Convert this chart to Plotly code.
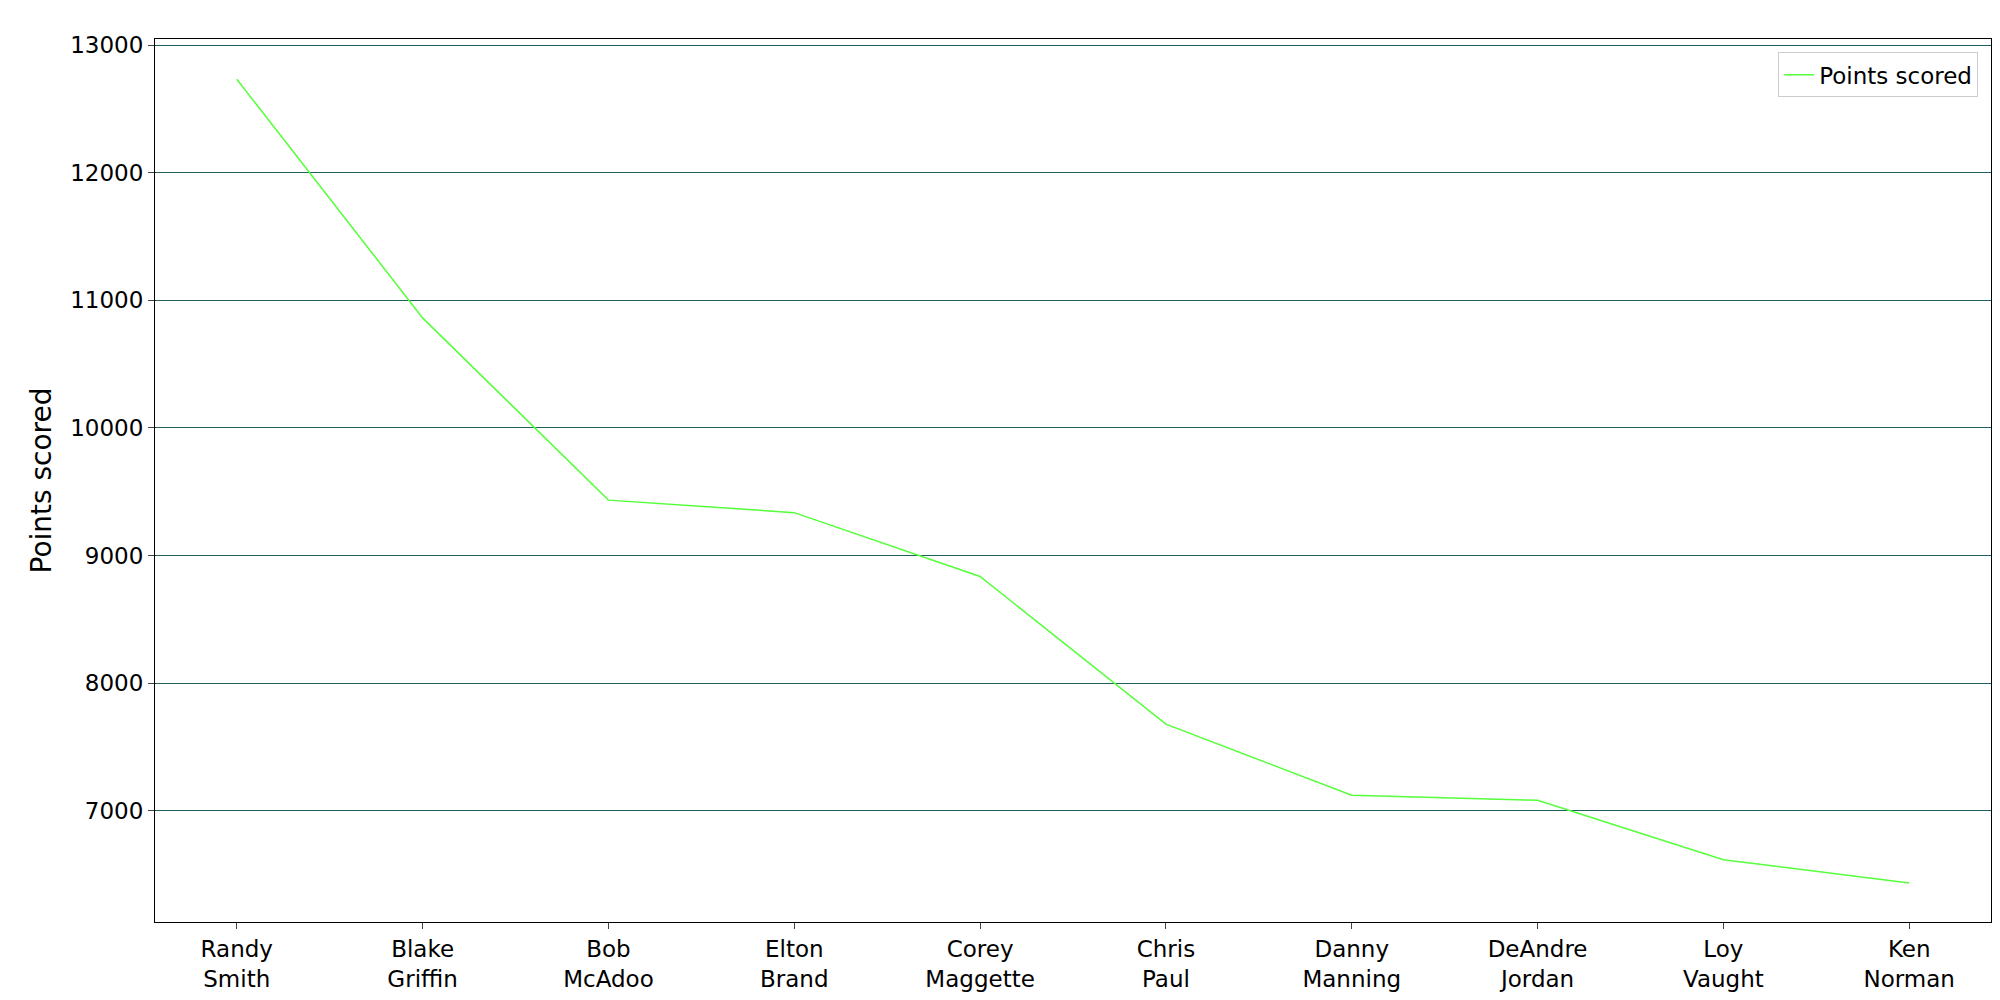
import plotly.graph_objects as go

players = ["Randy<br>Smith", "Blake<br>Griffin", "Bob<br>McAdoo", "Elton<br>Brand", "Corey<br>Maggette",
           "Chris<br>Paul", "Danny<br>Manning", "DeAndre<br>Jordan", "Loy<br>Vaught", "Ken<br>Norman"]
points = [12735, 10863, 9434, 9336, 8835, 7678, 7120, 7080, 6614, 6432]

fig = go.Figure(go.Scatter(x=list(range(len(players))), y=points, mode="lines",
                           line=dict(color="#55ff3a", width=1.5), name="Points scored", showlegend=True))
fig.update_layout(
    width=2000, height=1000, paper_bgcolor="white", plot_bgcolor="white",
    margin=dict(l=147, r=17, t=31, b=86),
    font=dict(family="DejaVu Sans", size=23, color="black"),
    legend=dict(x=0.993, y=0.985, xanchor="right", yanchor="top", bordercolor="#cccccc", borderwidth=1,
                bgcolor="white", font=dict(size=23)),
)
fig.update_xaxes(tickmode="array", tickvals=list(range(len(players))), ticktext=players,
                 range=[-0.44, 9.44], showgrid=False, showline=True, linecolor="black", mirror=True,
                 ticks="outside", ticklen=6, zeroline=False)
fig.update_yaxes(range=[6126, 13050], tickvals=[7000, 8000, 9000, 10000, 11000, 12000, 13000],
                 tickformat="d",
                 showgrid=True, gridcolor="#1f5f5f", gridwidth=1, showline=True, linecolor="black", mirror=True,
                 ticks="outside", ticklen=6, zeroline=False,
                 title=dict(text="Points scored", standoff=10))
fig.write_html("out.html")
